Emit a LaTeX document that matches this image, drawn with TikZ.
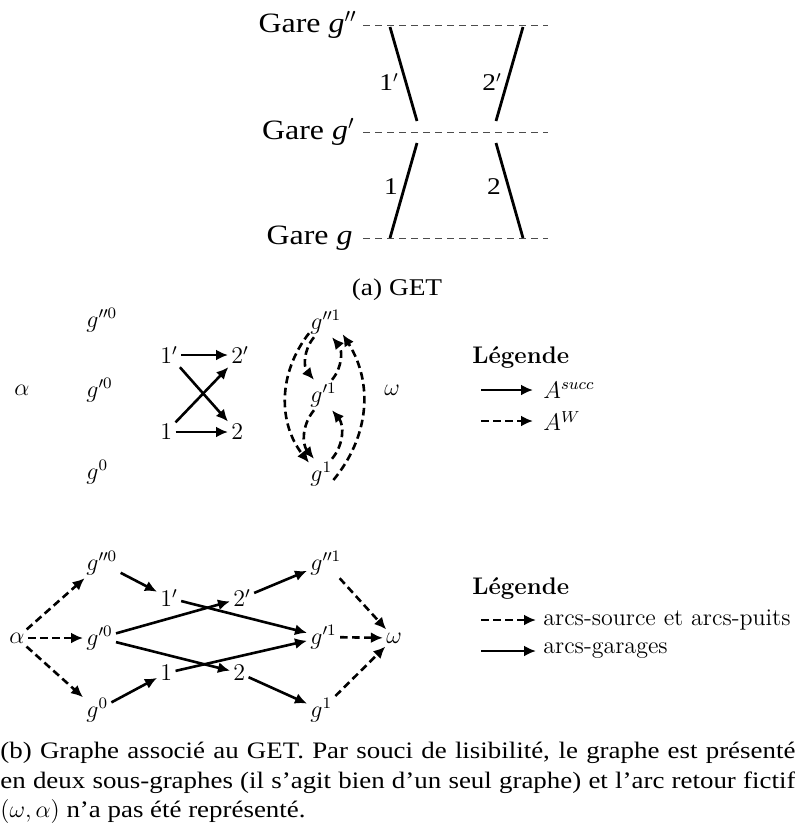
\documentclass[tikz,border=0pt]{standalone}
\usepackage{fontspec}
\newfontfamily\capfont[FakeStretch=1.14]{Liberation Serif}
\usetikzlibrary{calc,arrows.meta}

\begin{document}
\begin{tikzpicture}[x=0.5pt,y=-0.5pt,
  gare/.style={font=\capfont\fontsize{14}{17}\selectfont, anchor=east, inner sep=0pt},
  voie/.style={font=\capfont\fontsize{12}{15}\selectfont, inner sep=0pt},
  piste/.style={line width=1.4pt},
  quai/.style={black!70, line width=0.5pt, dash pattern=on 3.5pt off 2.5pt},
  sommet/.style={font=\fontsize{12}{14}\selectfont, inner sep=1.5pt},
  gsommet/.style={sommet, anchor=west},
  succ/.style={-{Latex[length=6pt,width=5.5pt]}, line width=1.3pt},
  attente/.style={succ, dash pattern=on 3.8pt off 2.2pt},
  legende/.style={font=\fontsize{12}{14}\selectfont, anchor=west, inner sep=0pt},
  ]

\useasboundingbox (0,0) rectangle (795,831);

% (a) GET
\coordinate (q2a) at (363,25);
\coordinate (q2b) at (548,25);
\coordinate (q1a) at (363,132);
\coordinate (q1b) at (548,132);
\coordinate (q0a) at (363,238);
\coordinate (q0b) at (548,238);

\node[gare] (gare2) at (357,25) {Gare \textit{g}$''$};
\node[gare] (gare1) at (355,132) {Gare \textit{g}$'$};
\node[gare] (gare0) at (353,238) {Gare \textit{g}};

\draw[quai] (q2a) -- (q2b);
\draw[quai] (q1a) -- (q1b);
\draw[quai] (q0a) -- (q0b);

\draw[piste] (390,27) -- (417,121);
\draw[piste] (523,27) -- (496,121);
\draw[piste] (417,143) -- (390,238);
\draw[piste] (496,143) -- (523,238);

\node[voie] (v1p) at (389,82) {1$'$};
\node[voie] (v2p) at (492,82) {2$'$};
\node[voie] (v1) at (391,187) {1};
\node[voie] (v2) at (494,187) {2};

\node[font=\capfont\fontsize{12}{15}\selectfont] (capa) at (397,290) {(a) GET};

% (b) premier sous-graphe
\node[sommet] (alpha1) at (22,390) {$\alpha$};
\node[gsommet] (gpp0) at (83,320) {$g''^0$};
\node[gsommet] (gp0) at ($(gpp0.west) + (0,70)$) {$g'^0$};
\node[gsommet] (g0) at ($(gp0.west) + (0,82)$) {$g^0$};

\node[gsommet] (n1p) at (157,355) {$1'$};
\node[gsommet] (n2p) at ($(n1p.west) + (71,0)$) {$2'$};
\node[gsommet] (n1) at ($(n1p.west) + (0,77)$) {$1$};
\node[gsommet] (n2) at ($(n1.west) + (71,0)$) {$2$};

\node[gsommet] (gpp1) at (307,322) {$g''^1$};
\node[gsommet] (gp1) at ($(gpp1.west) + (0,73)$) {$g'^1$};
\node[gsommet] (g1) at ($(gp1.west) + (0,79)$) {$g^1$};

\node[sommet] (omega1) at (392,390) {$\omega$};

\draw[succ] (n1p) -- (n2p);
\draw[succ] (n1) -- (n2);
\draw[succ] (n1p) -- (n2);
\draw[succ] (n1) -- (n2p);

\draw[attente] ($(gpp1.south west)+(2,-4)$) to[bend right=38] ($(g1.north west)+(2,4)$);
\draw[attente] ($(g1.east)+(-2,6)$) to[bend right=36] ($(gpp1.south east)+(-2,-3)$);
\draw[attente] ($(gpp1.south west)+(7,0)$) to[bend right=40] ($(gp1.north west)+(7,0)$);
\draw[attente] ($(gp1.north west)+(25,0)$) to[bend right=40] ($(gpp1.south west)+(25,0)$);
\draw[attente] ($(gp1.south west)+(7,0)$) to[bend right=40] ($(g1.north west)+(7,0)$);
\draw[attente] ($(g1.north west)+(25,0)$) to[bend right=40] ($(gp1.south west)+(25,0)$);

\node[legende, font=\fontsize{12}{14}\selectfont\bfseries] (leg1) at (472,357) {Légende};
\coordinate (l1a) at (481,390);
\coordinate (l1b) at (533,390);
\coordinate (l1c) at (481,421);
\coordinate (l1d) at (533,421);
\draw[succ] (l1a) -- (l1b);
\draw[attente] (l1c) -- (l1d);
\node[legende] (lsucc) at (543,390) {$A^{succ}$};
\node[legende] (lw) at (543,421) {$A^{W}$};

% (b) second sous-graphe
\node[sommet] (alpha2) at (17,638) {$\alpha$};
\node[gsommet] (gpp0b) at (83,563) {$g''^0$};
\node[gsommet] (gp0b) at ($(gpp0b.west) + (0,75)$) {$g'^0$};
\node[gsommet] (g0b) at ($(gp0b.west) + (0,72)$) {$g^0$};

\node[gsommet] (n1pb) at (157,598) {$1'$};
\node[gsommet] (n2pb) at ($(n1pb.west) + (73,0)$) {$2'$};
\node[gsommet] (n1b) at ($(n1pb.west) + (0,75)$) {$1$};
\node[gsommet] (n2b) at ($(n1b.west) + (73,0)$) {$2$};

\node[gsommet] (gpp1b) at (307,563) {$g''^1$};
\node[gsommet] (gp1b) at ($(gpp1b.west) + (0,74)$) {$g'^1$};
\node[gsommet] (g1b) at ($(gp1b.west) + (0,73)$) {$g^1$};

\node[sommet] (omega2) at (394,638) {$\omega$};

\draw[attente] (alpha2) -- (gpp0b);
\draw[attente] (alpha2) -- (gp0b);
\draw[attente] (alpha2) -- (g0b);
\draw[succ] (gpp0b) -- (n1pb);
\draw[succ] (g0b) -- (n1b);
\draw[succ] (gp0b) -- (n2pb);
\draw[succ] (gp0b) -- (n2b);
\draw[succ] (n1pb) -- (gp1b);
\draw[succ] (n1b) -- (gp1b);
\draw[succ] (n2pb) -- (gpp1b);
\draw[succ] (n2b) -- (g1b);
\draw[attente] (gpp1b) -- (omega2);
\draw[attente] (gp1b) -- (omega2);
\draw[attente] (g1b) -- (omega2);

\node[legende, font=\fontsize{12}{14}\selectfont\bfseries] (leg2) at (472,588) {Légende};
\coordinate (l2a) at (481,620);
\coordinate (l2b) at (536,620);
\coordinate (l2c) at (481,651);
\coordinate (l2d) at (536,651);
\draw[attente] (l2a) -- (l2b);
\draw[succ] (l2c) -- (l2d);
\node[legende] (lsrc) at (543,620) {arcs-source et arcs-puits};
\node[legende] (lgar) at (543,651) {arcs-garages};

\node[anchor=north west, text width=397.5pt, align=justify, inner sep=0pt,
  font=\capfont\fontsize{11.8}{14.6}\selectfont] (capb) at (0,742)
  {(b) Graphe associé au GET. Par souci de lisibilité, le graphe est présenté\linebreak
   en deux sous-graphes (il s’agit bien d’un seul graphe) et l’arc retour fictif\linebreak
   $(\omega, \alpha)$ n’a pas été représenté.};

\end{tikzpicture}
\end{document}
